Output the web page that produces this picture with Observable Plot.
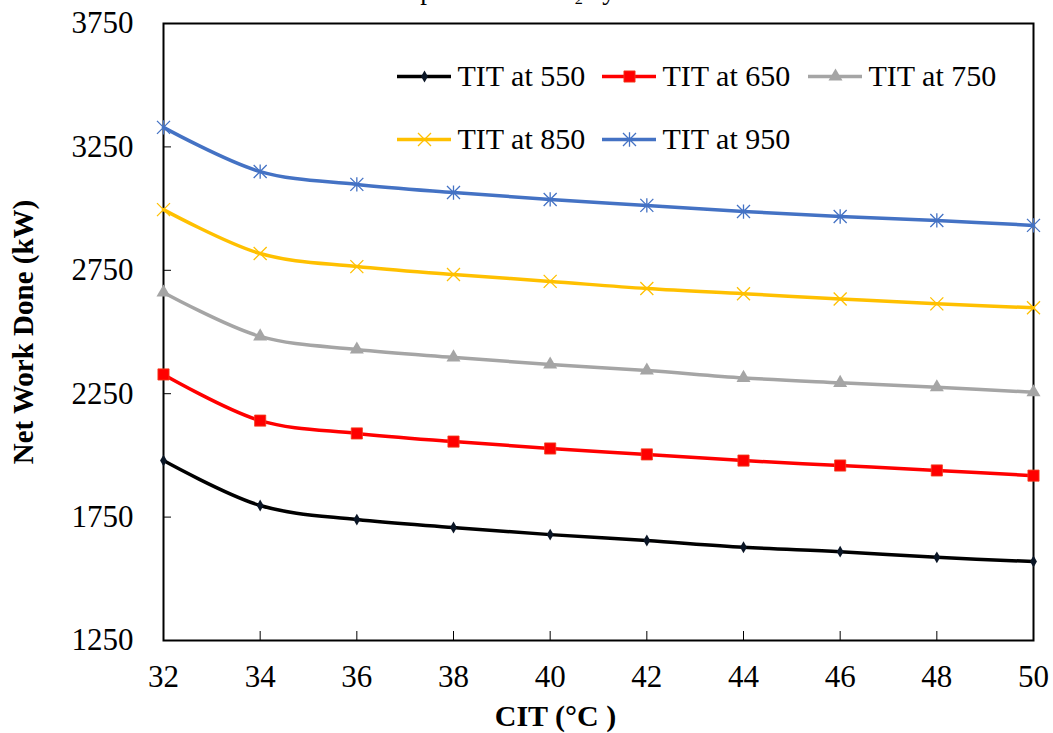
<!DOCTYPE html>
<html>
<head>
<meta charset="utf-8">
<script src="https://cdn.jsdelivr.net/npm/d3@7"></script>
<script src="https://cdn.jsdelivr.net/npm/@observablehq/plot@0.6"></script>
<style>
  html, body { margin: 0; padding: 0; background: #fff; overflow: hidden; }
  #wrap { position: relative; width: 1053px; height: 733px; overflow: hidden; }
  .leg { position: absolute; }
  .leg svg { display: block; }
</style>
</head>
<body>
<div id="wrap"></div>
<script>
// ---- data ----
const cit = [32, 34, 36, 38, 40, 42, 44, 46, 48, 50];
const tit550 = [1979, 1797, 1740, 1708, 1679, 1655, 1628, 1610, 1587, 1570];
const tit650 = [2328, 2141, 2089, 2056, 2028, 2004, 1979, 1959, 1939, 1918];
const tit750 = [2660, 2482, 2429, 2397, 2368, 2344, 2314, 2294, 2276, 2256];
const tit850 = [2996, 2818, 2765, 2733, 2705, 2676, 2655, 2634, 2614, 2598];
const tit950 = [3329, 3150, 3098, 3065, 3037, 3013, 2988, 2968, 2952, 2932];
const seriesNames = ["TIT at 550", "TIT at 650", "TIT at 750", "TIT at 850", "TIT at 950"];
const seriesValues = [tit550, tit650, tit750, tit850, tit950];
const seriesColors = ["#000000", "#ff0000", "#a5a5a5", "#ffc000", "#4472c4"];
const xTicks = [32, 34, 36, 38, 40, 42, 44, 46, 48, 50];
const yTicks = [1250, 1750, 2250, 2750, 3250, 3750];
const titleText = "Supercritical CO\u2082 cycle";
const xTitle = "CIT (\u00B0C )";
const yTitle = "Net Work Done (kW)";

const FONT = "'Liberation Serif', 'Times New Roman', serif";

// ---- custom stroke symbols (Excel x and star markers) ----
const symTimes = { draw(ctx, size) { const r = Math.sqrt(size / Math.PI);
  ctx.moveTo(-r, -r); ctx.lineTo(r, r); ctx.moveTo(r, -r); ctx.lineTo(-r, r); } };
const symStar = { draw(ctx, size) { const r = Math.sqrt(size / Math.PI);
  ctx.moveTo(-r, -r); ctx.lineTo(r, r); ctx.moveTo(r, -r); ctx.lineTo(-r, r);
  ctx.moveTo(0, -r * 1.1); ctx.lineTo(0, r * 1.1); } };

const markerSpecs = [
  { symbol: "diamond", r: 3.6, fill: "#0b1626", stroke: "none", strokeWidth: 0 },
  { symbol: "square", r: 6.3, fill: "#ff0000", stroke: "#f04020", strokeWidth: 0.8 },
  { symbol: "triangle", r: 5.2, fill: "#a5a5a5", stroke: "none", strokeWidth: 0 },
  { symbol: symTimes, r: 6.5, fill: "none", stroke: "#ffc000", strokeWidth: 1.3 },
  { symbol: symStar, r: 6.5, fill: "none", stroke: "#4472c4", strokeWidth: 1.3 }
];

const rows = [];
seriesNames.forEach((name, i) => {
  cit.forEach((c, j) => rows.push({ series: name, idx: i, cit: c, work: seriesValues[i][j] }));
});

const W = 1053, H = 733, mL = 163, mR = 20, mT = 23, mB = 93;
const frameW = W - mL - mR, frameH = H - mT - mB;

const marks = [
  Plot.frame({ stroke: "#000", strokeWidth: 2 }),
  Plot.tickY(yTicks, { y: d => d, stroke: "#000", strokeWidth: 1, insetRight: frameW - 8 }),
  Plot.tickX(xTicks, { x: d => d, stroke: "#000", strokeWidth: 1, insetTop: frameH - 9 }),
  Plot.axisY({ ticks: yTicks, tickSize: 0, tickPadding: 30, label: null, tickFormat: d => String(d) }),
  Plot.axisX({ ticks: xTicks, tickSize: 0, tickPadding: 24, label: null, tickFormat: d => String(d) })
];
seriesNames.forEach((name, i) => {
  const d = rows.filter(r => r.idx === i);
  marks.push(Plot.line(d, { x: "cit", y: "work", stroke: seriesColors[i], strokeWidth: 3.5, curve: "catmull-rom" }));
});
seriesNames.forEach((name, i) => {
  const d = rows.filter(r => r.idx === i);
  const m = markerSpecs[i];
  marks.push(Plot.dot(d, { x: "cit", y: "work", symbol: m.symbol, r: m.r, fill: m.fill, stroke: m.stroke, strokeWidth: m.strokeWidth }));
});
marks.push(
  Plot.text([yTitle], { frameAnchor: "left", dx: -140, rotate: -90, textAnchor: "middle", lineAnchor: "middle", fontSize: 29, fontWeight: "bold" }),
  Plot.text([xTitle], { frameAnchor: "bottom", dx: -43, dy: 76, textAnchor: "middle", lineAnchor: "middle", fontSize: 30, fontWeight: "bold" }),
  Plot.text([titleText], { frameAnchor: "top", dx: -79, dy: -33, textAnchor: "middle", lineAnchor: "middle", fontSize: 27 })
);

const chart = Plot.plot({
  width: W, height: H,
  marginLeft: mL, marginRight: mR, marginTop: mT, marginBottom: mB,
  x: { domain: [32, 50] },
  y: { domain: [1250, 3750] },
  style: { fontFamily: FONT, fontSize: "31px", color: "#000", background: "transparent", overflow: "hidden" },
  marks
});
const wrap = document.getElementById("wrap");
wrap.appendChild(chart);

// ---- legend (overlaid inside the plot area, as in the reference) ----
const legendPos = [[397, 76], [602, 76], [808, 76], [397, 139], [602, 139]];
seriesNames.forEach((name, i) => {
  const m = markerSpecs[i];
  const item = document.createElement("div");
  item.className = "leg";
  item.style.left = legendPos[i][0] + "px";
  item.style.top = (legendPos[i][1] - 20) + "px";
  const sw = Plot.plot({
    width: 200, height: 40, marginLeft: 0, marginRight: 146, marginTop: 0, marginBottom: 0,
    x: { domain: [0, 2], axis: null }, y: { domain: [0, 1], axis: null },
    style: { background: "transparent", overflow: "visible", fontFamily: FONT, fontSize: "30px", color: "#000" },
    marks: [
      Plot.ruleY([0.5], { x1: 0, x2: 2, stroke: seriesColors[i], strokeWidth: 3.5 }),
      Plot.dot([1], { x: d => d, y: 0.5, symbol: m.symbol, r: m.r, fill: m.fill, stroke: m.stroke, strokeWidth: m.strokeWidth }),
      Plot.text([name], { frameAnchor: "right", dx: 6, textAnchor: "start", lineAnchor: "middle", fill: "#000" })
    ]
  });
  item.appendChild(sw);
  wrap.appendChild(item);
});
</script>
</body>
</html>
